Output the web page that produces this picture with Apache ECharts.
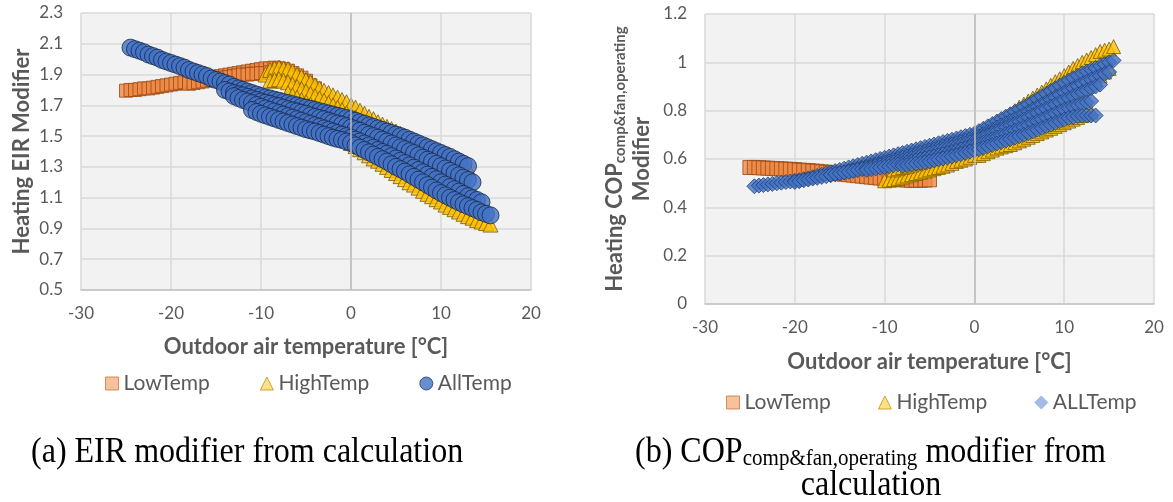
<!DOCTYPE html>
<html>
<head>
<meta charset="utf-8">
<script src="https://cdn.jsdelivr.net/npm/echarts@6/dist/echarts.min.js"></script>
<style>
  html, body { margin: 0; padding: 0; background: #ffffff; }
  #chart { width: 1173px; height: 502px; }
</style>
</head>
<body>
<div id="chart"></div>
<script>
// ---- axis ranges: [min, max, interval] ----
const tempRange = [-30, 20, 10];
const eirRange = [0.5, 2.3, 0.2];
const copRange = [0, 1.2, 0.2];

// outdoor air temperatures of the simulated operating points [°C]
const tGrid = [-25,-24.5,-24,-23.5,-23,-22.5,-22,-21.5,-21,-20.5,-20,-19.5,-19,-18.5,-18,-17.5,-17,-16.5,-16,-15.5,
  -15,-14.5,-14,-13.5,-13,-12.5,-12,-11.5,-11,-10.5,-10,-9.5,-9,-8.5,-8,-7.5,-7,-6.5,-6,-5.5,-5,-4.5,-4,-3.5,-3,
  -2.5,-2,-1.5,-1,-0.5,0,0.5,1,1.5,2,2.5,3,3.5,4,4.5,5,5.5,6,6.5,7,7.5,8,8.5,9,9.5,10,10.5,11,11.5,12,12.5,13,
  13.5,14,14.5,15,15.5];

// ---- (a) Heating EIR modifier; each run starts at `from` and follows tGrid ----
const eirLowTemp = [
  { from: -25, y: [1.795,1.80,1.80,1.805,1.81,1.81,1.815,1.82,1.825,1.83,1.835,1.84,1.845,1.85,1.855,1.86,1.865,1.87,
    1.875,1.88,1.885,1.89,1.895,1.90,1.905,1.91,1.915,1.92,1.925,1.93,1.935,1.94,1.94,1.945,1.94,1.935,1.925,1.91,1.895,1.88,1.86] },
  { from: -18, y: [1.84,1.845,1.85,1.855,1.86,1.865,1.87,1.875,1.88,1.885,1.89,1.895,1.90,1.90,1.905,1.905,1.91,1.91,
    1.915,1.91,1.905,1.90,1.895,1.885,1.875,1.86,1.845,1.83,1.81] }
];
const eirHighTemp = [
  { from: -9.5, y: [1.90,1.93,1.94,1.945,1.94,1.935,1.92,1.90,1.885,1.865,1.85,1.83,1.81,1.795,1.78,1.765,1.75,1.735,1.72,
    1.70,1.685,1.665,1.645,1.625,1.61,1.59,1.575,1.56,1.545,1.53,1.515,1.50,1.485,1.47,1.455,1.44,1.425,1.41,1.395,1.38,
    1.365,1.35,1.335,1.32,1.305,1.29] },
  { from: -9, y: [1.86,1.865,1.87,1.86,1.85,1.835,1.82,1.805,1.79,1.775,1.76,1.745,1.73,1.715,1.70,1.685,1.67,1.65,1.635,
    1.62,1.60,1.585,1.565,1.55,1.53,1.51,1.495,1.48,1.46,1.445,1.43,1.41,1.39,1.375,1.355,1.34,1.32,1.30,1.28,1.265,1.245,
    1.23,1.21,1.19,1.17] },
  { from: -7, y: [1.78,1.765,1.75,1.735,1.72,1.705,1.69,1.67,1.655,1.64,1.62,1.605,1.585,1.57,1.55,1.535,1.515,1.50,1.48,
    1.46,1.445,1.43,1.41,1.39,1.375,1.355,1.34,1.32,1.30,1.285,1.265,1.245,1.23,1.21,1.19,1.17,1.155,1.135,1.12,1.10,1.08,
    1.06,1.04] },
  { from: -5, y: [1.65,1.63,1.61,1.59,1.575,1.555,1.535,1.515,1.495,1.475,1.455,1.435,1.415,1.395,1.375,1.355,1.34,1.32,
    1.30,1.28,1.26,1.24,1.22,1.20,1.185,1.165,1.145,1.125,1.11,1.09,1.075,1.055,1.04,1.025,1.01,0.995,0.98,0.97,0.955,
    0.945,0.935,0.925] }
];
const eirAllTemp = [
  { from: -24.5, y: [2.075,2.065,2.055,2.045,2.03,2.02,2.01,1.995,1.985,1.975,1.965,1.955,1.945,1.93,1.92,1.91,1.90,1.89,
    1.875,1.865,1.855,1.845,1.835,1.82,1.81,1.80,1.79,1.78,1.77,1.76,
    1.752,1.745,1.737,1.73,1.722,1.715,1.707,1.70,1.692,1.685,1.677,1.67,1.662,1.655,1.647,1.64,1.632,1.625,1.617,1.61,
    1.60,1.59,1.58,1.57,1.56,1.55,1.54,1.53,1.52,1.51,1.50,1.49,1.477,1.465,1.452,1.44,1.427,1.415,1.402,1.39,1.377,
    1.365,1.35,1.335,1.32,1.305] },
  { from: -14, y: [1.80,1.79,1.78,1.772,1.765,1.755,1.745,1.735,1.725,1.717,1.71,1.70,1.695,1.685,1.675,1.667,1.66,1.652,
    1.645,1.635,1.625,1.617,1.61,1.60,1.59,1.582,1.575,1.565,1.555,
    1.545,1.535,1.522,1.51,1.50,1.49,1.477,1.465,1.452,1.44,1.427,1.415,1.402,1.39,1.375,1.36,1.347,1.335,1.32,1.305,
    1.29,1.275,1.26,1.245,1.23,1.215,1.20] },
  { from: -13, y: [1.76,1.747,1.735,1.725,1.715,1.702,1.69,1.68,1.67,1.66,1.65,1.64,1.63,1.62,1.61,1.60,1.59,1.58,1.57,
    1.56,1.55,1.54,1.53,1.52,1.51,1.50,1.49,
    1.477,1.465,1.452,1.44,1.425,1.41,1.397,1.385,1.37,1.355,1.34,1.325,1.31,1.295,1.28,1.265,1.25,1.235,1.22,1.20,
    1.185,1.17,1.155,1.14,1.125,1.11,1.097,1.085,1.07] },
  { from: -11, y: [1.67,1.657,1.645,1.635,1.625,1.615,1.605,1.595,1.585,1.575,1.565,1.555,1.545,1.537,1.53,1.52,1.51,
    1.50,1.49,1.482,1.475,1.465,1.455,
    1.44,1.425,1.41,1.395,1.38,1.365,1.35,1.335,1.317,1.30,1.285,1.27,1.252,1.235,1.217,1.20,1.182,1.165,1.147,1.13,
    1.115,1.10,1.085,1.07,1.057,1.045,1.032,1.02,1.005,0.995,0.985] }
];

// ---- (b) Heating COP(comp&fan,operating) modifier ----
const copLowTemp = [
  { from: -25, y: [0.565,0.565,0.564,0.563,0.562,0.561,0.56,0.559,0.558,0.557,0.556,0.554,0.553,0.552,0.55,0.549,0.547,
    0.545,0.543,0.541,0.539,0.537,0.535,0.533,0.531,0.529,0.527,0.525,0.523,0.521,0.519,0.517,0.516,0.515,0.514,0.513,
    0.512,0.512,0.512,0.513,0.514] }
];
const copHighTemp = [
  { from: -8, y: [0.545,0.55,0.555,0.56,0.565,0.57,0.575,0.58,0.585,0.592,0.60,0.607,0.615,0.622,0.63,0.637,0.645,
    0.652,0.66,0.67,0.68,0.69,0.70,0.71,0.72,0.73,0.74,0.75,0.76,0.77,0.78,0.79,0.80,0.81,0.82,0.83,0.84,0.85,0.862,
    0.875,0.887,0.90,0.915,0.93,0.945,0.96,0.975] },
  { from: -10, y: [0.51,0.512,0.515,0.52,0.525,0.53,0.535,0.54,0.545,0.55,0.555,0.56,0.565,0.57,0.575,0.582,0.59,0.595,
    0.60,0.607,0.615,
    0.615,0.622,0.63,0.637,0.645,0.65,0.655,0.66,0.667,0.675,0.682,0.69,0.697,0.705,0.712,0.72,0.727,0.735,0.742,0.75,
    0.757,0.765,0.772,0.78,0.787,0.795] },
  { from: -9, y: [0.555,0.56,0.565,0.57,0.575,0.58,0.585,0.592,0.60,0.605,0.61,0.617,0.625,0.632,0.64,0.65,0.66,0.67,0.68,
    0.692,0.705,0.717,0.73,0.742,0.755,0.77,0.785,0.80,0.815,0.827,0.84,0.852,0.865,0.877,0.89,0.905,0.92,0.932,0.945,
    0.96,0.975,0.987,1.0,1.01,1.02,1.032,1.045,1.05,1.055,1.065] }
];
const copAllTemp = [
  { from: -24.5, y: [0.487,0.49,0.492,0.495,0.497,0.50,0.502,0.505,0.507,0.51,0.512,0.516,0.52,0.525,0.53,0.535,0.54,
    0.545,0.55,0.555,
    0.56,0.565,0.57,0.575,0.58,0.585,0.59,0.595,0.60,0.605,0.61,0.615,0.62,0.625,0.63,0.635,0.64,0.645,0.65,0.655,0.66,
    0.665,0.67,0.675,0.68,0.685,0.69,0.695,0.70,0.705,
    0.715,0.725,0.735,0.745,0.755,0.765,0.775,0.785,0.795,0.805,0.815,0.826,0.837,0.848,0.86,0.87,0.882,0.893,0.904,
    0.915,0.925,0.935,0.945,0.955,0.962,0.97,0.977,0.985,0.992,1.0,1.008] },
  { from: -20, y: [0.505,0.508,0.512,0.515,0.519,0.522,0.526,0.529,0.533,0.537,0.54,0.544,0.549,0.553,0.558,0.562,0.567,
    0.571,0.576,0.58,0.585,0.59,0.595,0.60,0.605,0.61,0.615,0.62,0.625,0.63,0.635,0.64,0.645,0.65,0.655,0.66,0.665,0.67,
    0.675,0.68,0.685,
    0.694,0.703,0.712,0.721,0.73,0.739,0.748,0.757,0.766,0.775,0.785,0.795,0.805,0.815,0.825,0.835,0.845,0.855,0.865,
    0.875,0.884,0.893,0.902,0.911,0.92,0.928,0.936,0.944,0.952,0.96] },
  { from: -16, y: [0.535,0.538,0.541,0.544,0.547,0.55,0.554,0.558,0.562,0.566,0.57,0.574,0.578,0.582,0.586,0.59,0.594,
    0.599,0.604,0.609,0.614,0.619,0.624,0.629,0.634,0.639,0.644,0.649,0.654,0.659,0.664,0.669,0.674,
    0.682,0.69,0.698,0.706,0.714,0.722,0.73,0.738,0.746,0.754,0.763,0.772,0.781,0.79,0.799,0.808,0.817,0.826,0.835,
    0.844,0.852,0.86,0.868,0.876,0.884,0.892,0.90,0.908] },
  { from: -12, y: [0.555,0.558,0.561,0.564,0.567,0.57,0.574,0.578,0.582,0.586,0.59,0.594,0.598,0.602,0.606,0.61,0.614,
    0.619,0.624,0.629,0.634,0.639,0.644,0.649,0.654,
    0.661,0.668,0.675,0.682,0.689,0.696,0.703,0.71,0.717,0.724,0.732,0.74,0.748,0.756,0.764,0.772,0.78,0.788,0.796,
    0.804,0.81,0.816,0.822,0.828,0.834,0.84] },
  { from: -8, y: [0.572,0.575,0.578,0.581,0.584,0.587,0.59,0.594,0.598,0.602,0.606,0.61,0.615,0.62,0.625,0.63,0.635,
    0.64,0.646,0.652,0.658,0.664,0.67,0.676,0.682,0.688,0.694,0.70,0.707,0.714,0.721,0.728,0.735,0.742,0.749,0.756,
    0.763,0.77,0.774,0.777,0.779,0.78,0.78,0.78] }
];

const seriesNames = ['LowTemp', 'HighTemp', 'AllTemp', 'ALLTemp'];
const xTitle = 'Outdoor air temperature [°C]';

const TEXT = '#595959';
const FONT = 'Lato';

// expand runs into [temperature, modifier] pairs
function toPoints(runs) {
  const pts = [];
  runs.forEach(run => {
    const i0 = tGrid.indexOf(run.from);
    run.y.forEach((v, k) => pts.push([tGrid[i0 + k], v]));
  });
  return pts;
}

function xAxisFor(gridIndex, gap) {
  return {
    gridIndex: gridIndex, type: 'value',
    min: tempRange[0], max: tempRange[1], interval: tempRange[2],
    axisLine: { show: true, onZero: false, lineStyle: { color: '#c4c4c4', width: 1.5 } },
    axisTick: { show: false },
    axisLabel: { margin: 15, fontFamily: FONT, fontSize: 17, color: TEXT },
    splitLine: { show: true, lineStyle: { color: '#d9d9d9', width: 1.5 } },
    name: xTitle, nameLocation: 'middle', nameGap: gap,
    nameTextStyle: { fontFamily: FONT, fontSize: 22, fontWeight: 'bold', color: TEXT }
  };
}

function yAxisFor(gridIndex, range, fmt, name, gap, nameStyle) {
  return {
    gridIndex: gridIndex, type: 'value',
    min: range[0], max: range[1], interval: range[2],
    axisLine: { show: false }, axisTick: { show: false },
    axisLabel: { margin: 18, fontFamily: FONT, fontSize: 17, color: TEXT, formatter: fmt },
    splitLine: { show: true, lineStyle: { color: '#d9d9d9', width: 1.5 } },
    name: name, nameLocation: 'middle', nameGap: gap, nameTextStyle: nameStyle
  };
}

// vertical line at 0 °C, where the value axis crosses
const zeroLine = {
  silent: true, symbol: ['none', 'none'], label: { show: false },
  lineStyle: { color: '#bdbdbd', width: 1.5, type: 'solid' },
  emphasis: { disabled: true },
  data: [{ xAxis: 0 }]
};

function scatter(name, runs, idx, symbol, size, fill, border, extra) {
  return Object.assign({
    type: 'scatter', name: name, data: toPoints(runs),
    xAxisIndex: idx, yAxisIndex: idx,
    symbol: symbol, symbolSize: size, large: false,
    itemStyle: { color: fill, borderColor: border, borderWidth: 1 },
    emphasis: { disabled: true }
  }, extra || {});
}

const legendText = { fontFamily: FONT, fontSize: 21, color: TEXT };
const iconLow = { name: seriesNames[0], icon: 'rect', itemStyle: { color: '#f4b183', borderColor: '#c9773e', borderWidth: 1 } };
const iconHigh = { name: seriesNames[1], icon: 'triangle', itemStyle: { color: '#ffd966', borderColor: '#b8921a', borderWidth: 1 } };

const option = {
  animation: false,
  backgroundColor: '#ffffff',
  grid: [
    { left: 81, top: 13, width: 450, height: 277, show: true, backgroundColor: '#f2f2f2', borderWidth: 0 },
    { left: 705, top: 14, width: 449, height: 290, show: true, backgroundColor: '#f2f2f2', borderWidth: 0 }
  ],
  xAxis: [xAxisFor(0, 46), xAxisFor(1, 47)],
  yAxis: [
    yAxisFor(0, eirRange, v => v.toFixed(1), 'Heating EIR Modifier', 48,
      { fontFamily: FONT, fontSize: 22, fontWeight: 'bold', color: TEXT }),
    yAxisFor(1, copRange, v => String(parseFloat(v.toFixed(1))),
      '{m|Heating COP}{s|comp&fan,operating}\n{m|Modifier}', 50,
      {
        color: TEXT,
        rich: {
          m: { fontFamily: FONT, fontSize: 22, fontWeight: 'bold', color: TEXT, lineHeight: 27 },
          s: { fontFamily: FONT, fontSize: 15, fontWeight: 'bold', color: TEXT, lineHeight: 27, verticalAlign: 'bottom' }
        }
      })
  ],
  legend: [
    {
      left: 100, top: 368, itemGap: 50, itemWidth: 13, itemHeight: 13, textStyle: legendText,
      selectedMode: false,
      data: [iconLow, iconHigh,
        { name: seriesNames[2], icon: 'circle', itemStyle: { color: '#4472c4', borderColor: '#1f3864', borderWidth: 1 } }]
    },
    {
      left: 721, top: 387, itemGap: 47, itemWidth: 13, itemHeight: 13, textStyle: legendText,
      selectedMode: false,
      data: [iconLow, iconHigh,
        { name: seriesNames[3], icon: 'diamond', itemStyle: { color: '#8faadc', borderColor: '#8faadc', borderWidth: 1 } }]
    }
  ],
  series: [
    scatter(seriesNames[0], eirLowTemp, 0, 'rect', 13, '#ef8a45', '#9a4a17', { markLine: zeroLine }),
    scatter(seriesNames[1], eirHighTemp, 0, 'triangle', 15, '#ffc000', '#7a5c00'),
    scatter(seriesNames[2], eirAllTemp, 0, 'circle', 17, '#4472c4', '#172846'),
    scatter(seriesNames[0], copLowTemp, 1, 'rect', 14, '#ef8a45', '#9a4a17', { markLine: zeroLine }),
    scatter(seriesNames[1], copHighTemp, 1, 'triangle', 14, '#ffc000', '#7a5c00'),
    scatter(seriesNames[3], copAllTemp, 1, 'diamond', 15, '#4472c4', '#22406f')
  ],
  graphic: [
    {
      type: 'text', x: 31, y: 453, scaleX: 0.915,
      style: { text: '(a) EIR modifier from calculation', font: '35px "Liberation Serif"', fill: '#000000', align: 'left', verticalAlign: 'middle' }
    },
    {
      type: 'text', x: 635, y: 453, scaleX: 0.915,
      style: {
        text: '{n|(b) COP}{s|comp&fan,operating}{n| modifier from}',
        fill: '#000000', align: 'left', verticalAlign: 'middle',
        rich: {
          n: { font: '35px "Liberation Serif"', fill: '#000000' },
          s: { font: '23px "Liberation Serif"', fill: '#000000', verticalAlign: 'bottom' }
        }
      }
    },
    {
      type: 'text', x: 871, y: 486, scaleX: 0.915,
      style: { text: 'calculation', font: '35px "Liberation Serif"', fill: '#000000', align: 'center', verticalAlign: 'middle' }
    }
  ]
};

const chart = echarts.init(document.getElementById('chart'), null, { renderer: 'canvas' });
chart.setOption(option);
</script>
</body>
</html>
